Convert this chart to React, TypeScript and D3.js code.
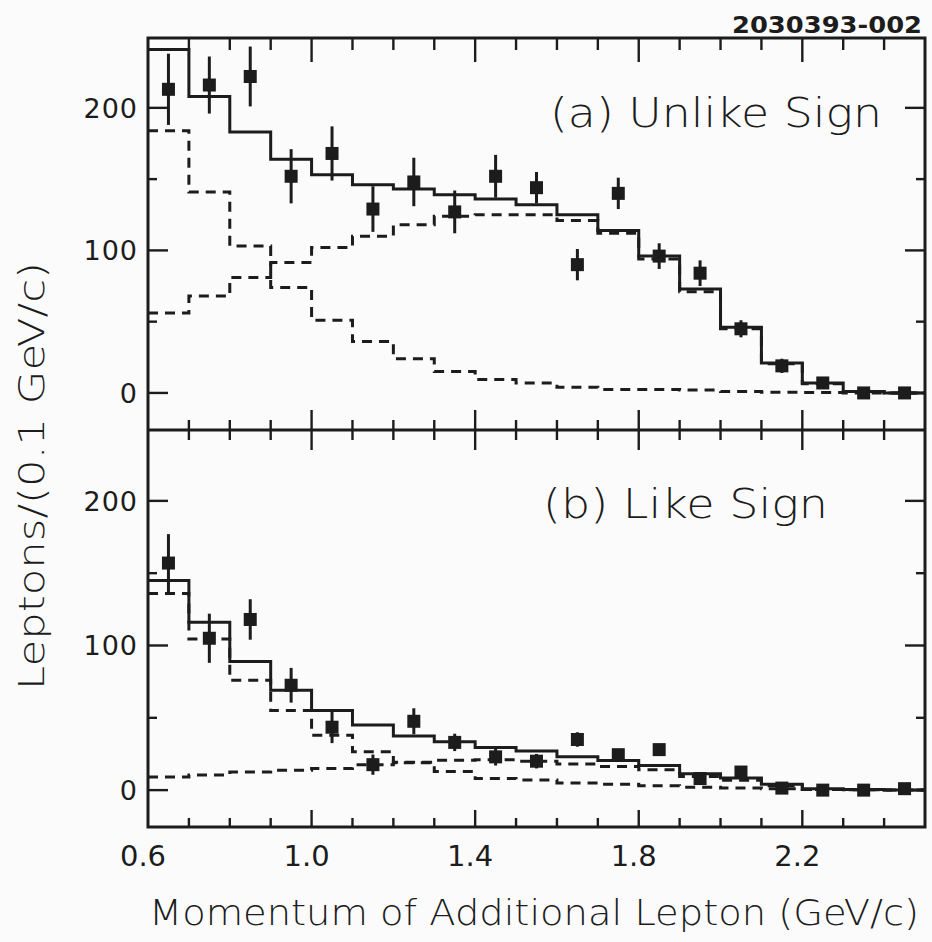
import React from 'react';
import * as d3 from 'd3';

// Bin lower edges and centres (GeV/c), bin width 0.1
const binLow = [0.6, 0.7, 0.8, 0.9, 1.0, 1.1, 1.2, 1.3, 1.4, 1.5, 1.6, 1.7, 1.8, 1.9, 2.0, 2.1, 2.2, 2.3, 2.4];
const binCenter = [0.65, 0.75, 0.85, 0.95, 1.05, 1.15, 1.25, 1.35, 1.45, 1.55, 1.65, 1.75, 1.85, 1.95, 2.05, 2.15, 2.25, 2.35, 2.45];
const binHigh = 2.5;

// (a) Unlike sign
const unlikeData = [213, 216, 222, 152, 168, 129, 148, 127, 152, 144, 90, 140, 96, 84, 45, 19, 7, 0, 0];
const unlikeErr = [25, 20, 21, 19, 19, 16, 17, 15, 15, 11, 11, 11, 9, 9, 6, 5, 4, 3, 3];
const unlikeTotal = [241, 208, 183, 164, 153, 146, 143, 139, 136, 132, 125, 114, 96, 73, 46, 21, 7, 1, 0];
const unlikeCompA = [184, 141, 103, 74, 51, 36, 24, 15, 9.5, 7, 4, 2.5, 2.5, 2, 1, 0.5, 0.3, 0, 0];
const unlikeCompB = [56, 68, 81, 91.5, 102, 110, 118, 124, 125, 125, 121, 112, 94, 71, 45, 20.5, 6.5, 1, 0];

// (b) Like sign
const likeData = [157, 105, 118, 72.5, 43.5, 17.6, 47.6, 33, 23, 20, 35, 24.5, 28, 8, 12.5, 1.4, 0, 0, 1];
const likeErr = [20, 17, 14, 12, 11, 7, 9, 6, 6, 5, 5, 4, 4, 4, 3, 2, 2, 2, 2];
const likeTotal = [145, 116, 89, 69, 55, 45, 37.5, 33.5, 29.5, 27, 23, 20.4, 17, 11.4, 8.3, 4, 1, 0.5, 0];
const likeCompA = [136, 104.5, 76, 55, 38, 26.6, 19, 12.8, 8, 7, 5, 4, 3, 2, 1.5, 1, 0.5, 0.2, 0];
const likeCompB = [9, 10.4, 12.5, 13.8, 15, 17.6, 19.3, 20.7, 21, 20, 18, 16.4, 14, 9.4, 6.8, 3, 0.5, 0.3, 0];

// Axis ticks
const xLabelValues = [0.6, 1.0, 1.4, 1.8, 2.2];
const xLabelTexts = ['0.6', '1.0', '1.4', '1.8', '2.2'];
const xMajorTicks = [1.0, 1.4, 1.8, 2.2];
const yMajorTicks = [0, 100, 200];
const yMinorTicks = [50, 150];
const yLabelTexts = ['0', '100', '200'];

const INK = '#1c1c1c';
const FONT = "'DejaVu Sans', sans-serif";

const W = 932;
const H = 942;
const X0 = 148;
const X1 = 925;

type PanelProps = {
  id: string;
  y: d3.ScaleLinear<number, number>;
  top: number;
  bottom: number;
  data: number[];
  err: number[];
  total: number[];
  compA: number[];
  compB: number[];
  label: string;
  labelX: number;
  labelY: number;
  labelLen: number;
  topTick: [number, number];
  bottomTick: [number, number];
};

function Panel(p: PanelProps) {
  const x = d3.scaleLinear().domain([0.6, binHigh]).range([X0, X1]);
  const step = d3
    .line<[number, number]>()
    .x((d) => x(d[0]))
    .y((d) => p.y(d[1]))
    .curve(d3.curveStepAfter);
  const pts = (v: number[]) =>
    binLow.map((b, i) => [b, v[i]] as [number, number]).concat([[binHigh, v[v.length - 1]]]);
  const minor = x.ticks(19).filter((t) => t > 0.6001 && t < 2.4999);
  const isMajor = (t: number) => xMajorTicks.some((m) => Math.abs(m - t) < 1e-6);
  return (
    <g>
      <defs>
        <clipPath id={p.id}>
          <rect x={X0} y={p.top} width={X1 - X0} height={p.bottom - p.top} />
        </clipPath>
      </defs>
      <g clipPath={`url(#${p.id})`}>
        <path d={step(pts(p.compA)) || ''} fill="none" stroke={INK} strokeWidth={3} strokeDasharray="10 7" />
        <path d={step(pts(p.compB)) || ''} fill="none" stroke={INK} strokeWidth={3} strokeDasharray="10 7" />
        <path d={step(pts(p.total)) || ''} fill="none" stroke={INK} strokeWidth={3} />
        {p.data.map((v, i) => (
          <g key={i}>
            <line
              x1={x(binCenter[i])}
              x2={x(binCenter[i])}
              y1={p.y(v + p.err[i])}
              y2={p.y(v - p.err[i])}
              stroke={INK}
              strokeWidth={3}
            />
            <rect x={x(binCenter[i]) - 6.5} y={p.y(v) - 6.5} width={13} height={13} fill={INK} />
          </g>
        ))}
      </g>
      {minor.map((t, i) => {
        const m = isMajor(t);
        return (
          <g key={'xt' + i} stroke={INK} strokeWidth={2.4}>
            <line x1={x(t)} x2={x(t)} y1={p.top} y2={p.top + (m ? p.topTick[1] : p.topTick[0])} />
            <line x1={x(t)} x2={x(t)} y1={p.bottom} y2={p.bottom - (m ? p.bottomTick[1] : p.bottomTick[0])} />
          </g>
        );
      })}
      {yMajorTicks.map((t) => (
        <g key={'ym' + t} stroke={INK} strokeWidth={2.4}>
          <line x1={X0} x2={X0 + 20} y1={p.y(t)} y2={p.y(t)} />
          <line x1={X1} x2={X1 - 20} y1={p.y(t)} y2={p.y(t)} />
        </g>
      ))}
      {yMinorTicks.map((t) => (
        <g key={'yn' + t} stroke={INK} strokeWidth={2.4}>
          <line x1={X0} x2={X0 + 9} y1={p.y(t)} y2={p.y(t)} />
          <line x1={X1} x2={X1 - 9} y1={p.y(t)} y2={p.y(t)} />
        </g>
      ))}
      {yMajorTicks.map((t, i) => (
        <text
          key={'yl' + t}
          x={138}
          y={p.y(t) + 10}
          textAnchor="end"
          fontFamily={FONT}
          fontSize={27}
          letterSpacing={1}
          fill={INK}
        >
          {yLabelTexts[i]}
        </text>
      ))}
      <text
        x={p.labelX}
        y={p.labelY}
        fontFamily={FONT}
        fontWeight={300}
        fontSize={40}
        fill={INK}
        textLength={p.labelLen}
        lengthAdjust="spacingAndGlyphs"
      >
        {p.label}
      </text>
    </g>
  );
}

export default function App() {
  const x = d3.scaleLinear().domain([0.6, binHigh]).range([X0, X1]);
  const yTop = d3.scaleLinear().domain([-26, 249]).range([430, 38]);
  const yBot = d3.scaleLinear().domain([-25.5, 249]).range([827, 430]);
  return (
    <svg
      width={W}
      height={H}
      viewBox={`0 0 ${W} ${H}`}
      style={{ position: 'absolute', left: 0, top: 0, background: '#fbfbfb' }}
    >
      <rect x={0} y={0} width={W} height={H} fill="#fbfbfb" />
      <text
        x={732}
        y={33}
        fontFamily={FONT}
        fontWeight="bold"
        fontSize={23}
        fill={INK}
        textLength={190}
        lengthAdjust="spacingAndGlyphs"
      >
        2030393-002
      </text>
      <Panel
        id="clipA"
        y={yTop}
        top={38}
        bottom={430}
        data={unlikeData}
        err={unlikeErr}
        total={unlikeTotal}
        compA={unlikeCompA}
        compB={unlikeCompB}
        label="(a) Unlike Sign"
        labelX={550}
        labelY={127}
        labelLen={332}
        topTick={[12, 24]}
        bottomTick={[10, 20]}
      />
      <Panel
        id="clipB"
        y={yBot}
        top={430}
        bottom={827}
        data={likeData}
        err={likeErr}
        total={likeTotal}
        compA={likeCompA}
        compB={likeCompB}
        label="(b) Like Sign"
        labelX={543}
        labelY={518}
        labelLen={285}
        topTick={[10, 20]}
        bottomTick={[9, 17]}
      />
      <rect x={X0} y={38} width={X1 - X0} height={827 - 38} fill="none" stroke={INK} strokeWidth={3} />
      <line x1={X0} x2={X1} y1={430} y2={430} stroke={INK} strokeWidth={3} />
      {xLabelValues.map((v, i) => (
        <text
          key={'xl' + i}
          x={x(v) - 5}
          y={866}
          textAnchor="middle"
          fontFamily={FONT}
          fontSize={29}
          fill={INK}
        >
          {xLabelTexts[i]}
        </text>
      ))}
      <text
        x={534}
        y={925}
        textAnchor="middle"
        fontFamily={FONT}
        fontWeight={300}
        fontSize={36}
        fill={INK}
        textLength={770}
        lengthAdjust="spacingAndGlyphs"
      >
        Momentum of Additional Lepton (GeV/c)
      </text>
      <text
        transform="translate(44,476) rotate(-90)"
        textAnchor="middle"
        fontFamily={FONT}
        fontWeight={300}
        fontSize={36}
        fill={INK}
        textLength={428}
        lengthAdjust="spacingAndGlyphs"
      >
        Leptons/(0.1 GeV/c)
      </text>
    </svg>
  );
}
